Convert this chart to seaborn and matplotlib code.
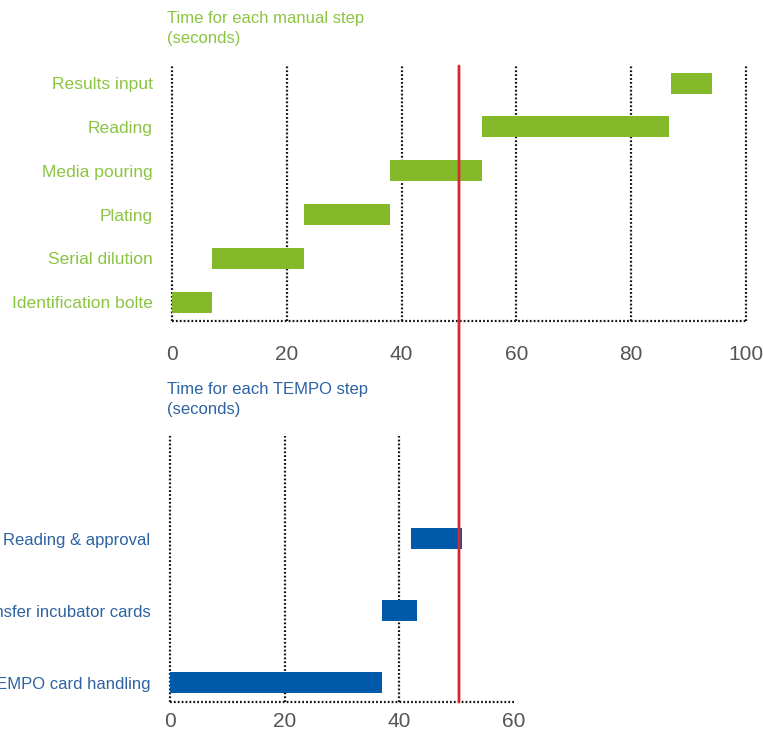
import matplotlib
matplotlib.use("Agg")
import matplotlib.pyplot as plt
import pandas as pd
import seaborn as sns
from matplotlib.patches import ConnectionPatch
from matplotlib.transforms import blended_transform_factory

# Manual workflow (seconds), listed top to bottom
manual_steps = ["Results input", "Reading", "Media pouring", "Plating",
                "Serial dilution", "Identification bolte"]
manual_start = [87, 54, 38, 23, 7, 0]
manual_end = [94, 86.5, 54, 38, 23, 7]
manual_ticks = [0, 20, 40, 60, 80, 100]
manual_grid = [0, 20, 40, 60, 80, 100]

# TEMPO workflow (seconds), listed top to bottom
tempo_steps = ["Reading & approval", "Transfer incubator cards", "TEMPO card handling"]
tempo_start = [42, 37, 0]
tempo_end = [51, 43, 37]
tempo_ticks = [0, 20, 40, 60]
tempo_grid = [0, 20, 40]

target_time = 50

GREEN_BAR = "#84b92a"
GREEN_TXT = "#8cc443"
BLUE_BAR = "#0059a9"
BLUE_TXT = "#2d62a3"
RED = "#d42a33"
GREY = "#555555"
SANS = ["Liberation Sans", "DejaVu Sans"]
DOTS = (0, (0.8, 0.95))

sns.set_style("white")
plt.rcParams["font.family"] = SANS

fig = plt.figure(figsize=(7.63, 7.34), dpi=100)
ax1 = fig.add_axes([172 / 763, 1 - 321 / 734, 574 / 763, 255 / 734])
ax2 = fig.add_axes([170 / 763, 1 - 702 / 734, 344 / 763, 266 / 734])


def gantt(ax, steps, start, end, ticks, grid, color, txt_color, bar_h, ylim, xpad, ysize):
    df = pd.DataFrame({"step": steps, "start": start,
                       "dur": [e - s for s, e in zip(start, end)]})
    sns.barplot(data=df, x="dur", y="step", order=steps, orient="h",
                left=df["start"].values, color=color, width=bar_h,
                saturation=1, errorbar=None, ax=ax, zorder=3, linewidth=0)
    ax.set_xlim(ticks[0], ticks[-1])
    ax.set_ylim(*ylim)
    # dotted vertical grid + dotted baseline
    ax.vlines(grid, 0, 1, transform=blended_transform_factory(ax.transData, ax.transAxes),
              colors="#111111", linewidth=1.6, linestyles=[DOTS], clip_on=False, zorder=1)
    ax.plot([0, 1], [0, 0], transform=ax.transAxes, color="#111111", linewidth=1.6,
            linestyle=DOTS, clip_on=False, zorder=1)
    sns.despine(ax=ax, left=True, bottom=True)
    ax.set_xticks(ticks)
    ax.set_xticklabels([str(t) for t in ticks])
    ax.set_xlabel("")
    ax.set_ylabel("")
    ax.tick_params(axis="x", length=0, pad=xpad, labelsize=15, labelcolor=GREY)
    ax.tick_params(axis="y", length=0, pad=14)
    for lab in ax.get_yticklabels():
        lab.set_color(txt_color)
        lab.set_fontsize(ysize)
    ax.set_facecolor("none")


gantt(ax1, manual_steps, manual_start, manual_end, manual_ticks, manual_grid,
      GREEN_BAR, GREEN_TXT, 0.48, (5.43, -0.39), 17, 12.6)
gantt(ax2, tempo_steps, tempo_start, tempo_end, tempo_ticks, tempo_grid,
      BLUE_BAR, BLUE_TXT, 0.29, (2.27, -1.43), 7, 12)

fig.text(167 / 763, 1 - 11 / 734, "Time for each manual step\n(seconds)",
         color=GREEN_TXT, fontsize=12, va="top", ha="left", linespacing=1.45)
fig.text(167 / 763, 1 - 382 / 734, "Time for each TEMPO step\n(seconds)",
         color=BLUE_TXT, fontsize=12, va="top", ha="left", linespacing=1.45)

# red reference line spanning both panels
con = ConnectionPatch(
    xyA=(target_time, 1), coordsA=blended_transform_factory(ax1.transData, ax1.transAxes),
    xyB=(target_time, 0), coordsB=blended_transform_factory(ax1.transData, ax2.transAxes),
    color=RED, linewidth=2.0, zorder=10)
fig.add_artist(con)

fig.savefig("out.png", dpi=100)
